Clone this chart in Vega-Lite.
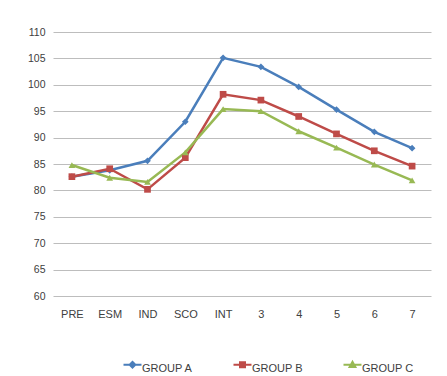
{
  "$schema": "https://vega.github.io/schema/vega-lite/v6.json",
  "autosize": {"type": "none"},
  "width": 378,
  "height": 264,
  "padding": {"left": 53, "top": 32, "right": 16, "bottom": 80},
  "background": "white",
  "data": {
    "values": [
      {"stage": "PRE", "group": "GROUP A", "score": 82.6},
      {"stage": "ESM", "group": "GROUP A", "score": 83.8},
      {"stage": "IND", "group": "GROUP A", "score": 85.6},
      {"stage": "SCO", "group": "GROUP A", "score": 93.0},
      {"stage": "INT", "group": "GROUP A", "score": 105.1},
      {"stage": "3", "group": "GROUP A", "score": 103.4},
      {"stage": "4", "group": "GROUP A", "score": 99.6},
      {"stage": "5", "group": "GROUP A", "score": 95.3},
      {"stage": "6", "group": "GROUP A", "score": 91.1},
      {"stage": "7", "group": "GROUP A", "score": 88.0},
      {"stage": "PRE", "group": "GROUP B", "score": 82.6},
      {"stage": "ESM", "group": "GROUP B", "score": 84.1},
      {"stage": "IND", "group": "GROUP B", "score": 80.2},
      {"stage": "SCO", "group": "GROUP B", "score": 86.2},
      {"stage": "INT", "group": "GROUP B", "score": 98.2},
      {"stage": "3", "group": "GROUP B", "score": 97.1},
      {"stage": "4", "group": "GROUP B", "score": 94.0},
      {"stage": "5", "group": "GROUP B", "score": 90.7},
      {"stage": "6", "group": "GROUP B", "score": 87.5},
      {"stage": "7", "group": "GROUP B", "score": 84.6},
      {"stage": "PRE", "group": "GROUP C", "score": 84.8},
      {"stage": "ESM", "group": "GROUP C", "score": 82.4},
      {"stage": "IND", "group": "GROUP C", "score": 81.6},
      {"stage": "SCO", "group": "GROUP C", "score": 87.2},
      {"stage": "INT", "group": "GROUP C", "score": 95.4},
      {"stage": "3", "group": "GROUP C", "score": 95.0},
      {"stage": "4", "group": "GROUP C", "score": 91.2},
      {"stage": "5", "group": "GROUP C", "score": 88.1},
      {"stage": "6", "group": "GROUP C", "score": 84.9},
      {"stage": "7", "group": "GROUP C", "score": 81.9}
    ]
  },
  "encoding": {
    "x": {
      "field": "stage",
      "type": "ordinal",
      "sort": ["PRE", "ESM", "IND", "SCO", "INT", "3", "4", "5", "6", "7"],
      "scale": {"paddingInner": 0, "paddingOuter": 0.5},
      "axis": {
        "title": null,
        "labelAngle": 0,
        "ticks": false,
        "domain": false,
        "grid": false,
        "labelPadding": 12,
        "labelFont": "Liberation Sans",
        "labelFontSize": 11,
        "labelColor": "#404040"
      }
    },
    "y": {
      "field": "score",
      "type": "quantitative",
      "scale": {"domain": [60, 110], "nice": false, "zero": false},
      "axis": {
        "title": null,
        "values": [60, 65, 70, 75, 80, 85, 90, 95, 100, 105, 110],
        "ticks": false,
        "domain": false,
        "gridColor": "#bdbdbd",
        "gridWidth": 1.2,
        "labelPadding": 8,
        "labelFont": "Liberation Sans",
        "labelFontSize": 10.5,
        "labelColor": "#404040"
      }
    }
  },
  "layer": [
    {
      "mark": {"type": "line", "strokeWidth": 2.5},
      "encoding": {
        "color": {
          "field": "group",
          "type": "nominal",
          "scale": {"domain": ["GROUP A", "GROUP B", "GROUP C"], "range": ["#4a7ebb", "#be4b48", "#98b954"]},
          "legend": {
            "title": null,
            "orient": "none",
            "legendX": 72,
            "legendY": 325,
            "direction": "horizontal",
            "columns": 3,
            "columnPadding": 36,
            "labelFont": "Liberation Sans",
            "labelFontSize": 11,
            "labelColor": "#404040",
            "labelOffset": 2,
            "symbolSize": 144,
            "symbolStrokeWidth": 2.2,
            "encode": {
              "labels": {"update": {"dy": {"value": 4}}},
              "symbols": {
                "update": {
                  "shape": {
                    "signal": "datum.value === 'GROUP A' ? 'M-1.5,0H1.5M0,-0.45L0.45,0L0,0.45L-0.45,0Z' : datum.value === 'GROUP B' ? 'M-1.5,0H1.5M-0.4,-0.4H0.4V0.4H-0.4Z' : 'M-1.5,0H1.5M0,-0.45L0.45,0.35H-0.45Z'"
                  },
                  "fill": {"scale": "color", "field": "value"},
                  "stroke": {"scale": "color", "field": "value"},
                  "strokeWidth": {"value": 2.2}
                }
              }
            }
          }
        }
      }
    },
    {
      "transform": [{"filter": "datum.group === 'GROUP A'"}],
      "mark": {"type": "point", "shape": "diamond", "size": 45, "filled": true, "opacity": 1},
      "encoding": {"color": {"field": "group", "type": "nominal", "legend": null}}
    },
    {
      "transform": [{"filter": "datum.group === 'GROUP B'"}],
      "mark": {"type": "point", "shape": "square", "size": 45, "filled": true, "opacity": 1},
      "encoding": {"color": {"field": "group", "type": "nominal", "legend": null}}
    },
    {
      "transform": [{"filter": "datum.group === 'GROUP C'"}],
      "mark": {"type": "point", "shape": "triangle-up", "size": 45, "filled": true, "opacity": 1},
      "encoding": {"color": {"field": "group", "type": "nominal", "legend": null}}
    }
  ],
  "config": {"view": {"stroke": null}}
}
